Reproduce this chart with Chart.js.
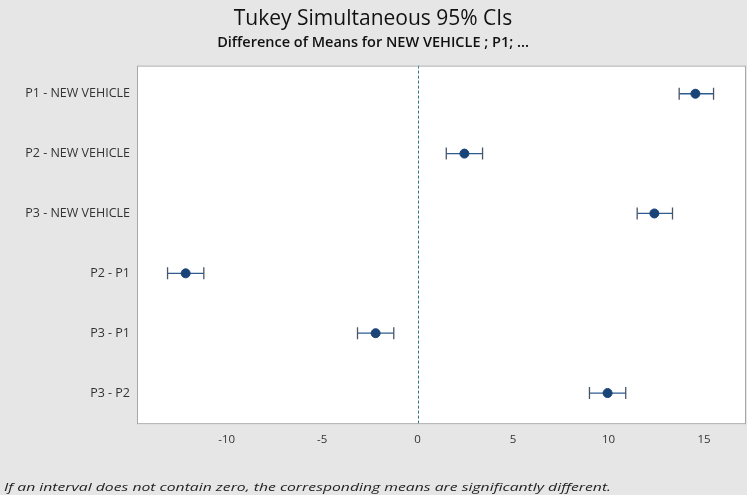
<!DOCTYPE html>
<html>
<head>
<meta charset="utf-8">
<script src="https://cdn.jsdelivr.net/npm/chart.js@4.4.1/dist/chart.umd.min.js"></script>
<style>
  html, body { margin: 0; padding: 0; background: #e6e6e6; }
  #wrap { position: relative; width: 747px; height: 495px; overflow: hidden; }
  #note {
    position: absolute; left: 4px; top: 479px; white-space: nowrap;
    font: italic 11px "Open Sans", sans-serif; color: #222;
    transform: scaleX(1.43); transform-origin: left top;
  }
</style>
</head>
<body>
<div id="wrap">
  <canvas id="tukey" width="747" height="495"></canvas>
  <div id="note">If an interval does not contain zero, the corresponding means are significantly different.</div>
</div>
<script>
const comparisons = [
  "P1 - NEW VEHICLE",
  "P2 - NEW VEHICLE",
  "P3 - NEW VEHICLE",
  "P2 - P1",
  "P3 - P1",
  "P3 - P2",
];
const diffMeans = [14.55, 2.45, 12.4, -12.15, -2.2, 9.95];
const lowerCI = [13.7, 1.5, 11.5, -13.1, -3.15, 9.0];
const upperCI = [15.5, 3.4, 13.35, -11.2, -1.25, 10.9];
const xTicks = [-10, -5, 0, 5, 10, 15];

// white plot area, border, dashed zero line and the interval bars
const intervalPlugin = {
  id: "intervals",
  beforeDraw(chart) {
    const { ctx, chartArea: a } = chart;
    ctx.save();
    ctx.fillStyle = "#ffffff";
    ctx.fillRect(a.left, a.top, a.right - a.left, a.bottom - a.top);
    ctx.restore();
  },
  beforeDatasetsDraw(chart) {
    const { ctx, chartArea: a, scales } = chart;
    const x = scales.x, y = scales.y;
    ctx.save();
    // zero reference line
    const x0 = Math.round(x.getPixelForValue(0)) + 0.5;
    ctx.strokeStyle = "#2f7777";
    ctx.lineWidth = 1;
    ctx.setLineDash([3, 2]);
    ctx.beginPath();
    ctx.moveTo(x0, a.top);
    ctx.lineTo(x0, a.bottom);
    ctx.stroke();
    ctx.setLineDash([]);
    // intervals
    diffMeans.forEach((m, i) => {
      const py = y.getPixelForValue(i);
      const xl = x.getPixelForValue(lowerCI[i]);
      const xr = x.getPixelForValue(upperCI[i]);
      ctx.strokeStyle = "#2f5c8f";
      ctx.lineWidth = 1.3;
      ctx.beginPath();
      ctx.moveTo(xl, py);
      ctx.lineTo(xr, py);
      ctx.stroke();
      ctx.strokeStyle = "#4a5568";
      ctx.beginPath();
      ctx.moveTo(xl, py - 6);
      ctx.lineTo(xl, py + 6);
      ctx.moveTo(xr, py - 6);
      ctx.lineTo(xr, py + 6);
      ctx.stroke();
    });
    ctx.restore();
  },
  afterDraw(chart) {
    const { ctx, chartArea: a } = chart;
    ctx.save();
    ctx.strokeStyle = "#a8a8a8";
    ctx.lineWidth = 1;
    ctx.strokeRect(a.left + 0.5, a.top + 0.5, a.right - a.left - 1, a.bottom - a.top - 1);
    ctx.restore();
  },
};

new Chart(document.getElementById("tukey"), {
  type: "scatter",
  data: {
    datasets: [
      {
        label: "Difference of Means",
        data: diffMeans.map((m, i) => ({ x: m, y: i })),
        backgroundColor: "#1a4478",
        borderColor: "#1a4478",
        pointRadius: 4.5,
      },
    ],
  },
  options: {
    responsive: false,
    animation: false,
    layout: { autoPadding: false, padding: { left: 0, right: 1, top: 0, bottom: 43 } },
    plugins: {
      legend: { display: false },
      tooltip: { enabled: false },
      title: {
        display: true,
        text: "Tukey Simultaneous 95% CIs",
        color: "#111",
        font: { family: "Open Sans", size: 21, weight: "normal" },
        padding: { top: 6, bottom: 0 },
      },
      subtitle: {
        display: true,
        text: "Difference of Means for NEW VEHICLE ; P1; ...",
        color: "#111",
        font: { family: "Open Sans", size: 14.5, weight: "600" },
        padding: { top: 3, bottom: 14 },
      },
    },
    scales: {
      x: {
        type: "linear",
        min: -14.7,
        max: 17.2,
        afterBuildTicks(scale) {
          scale.ticks = xTicks.map((v) => ({ value: v }));
        },
        afterFit(scale) {
          scale.paddingLeft = 0;
          scale.paddingRight = 0;
        },
        grid: { display: false, drawTicks: true, tickLength: 4 },
        border: { display: false },
        ticks: {
          color: "#333",
          font: { family: "Open Sans", size: 11.5 },
          padding: 5,
        },
      },
      y: {
        type: "linear",
        min: -0.47,
        max: 5.52,
        reverse: true,
        afterBuildTicks(scale) {
          scale.ticks = comparisons.map((c, i) => ({ value: i }));
        },
        afterFit(scale) {
          scale.width = 137;
        },
        grid: { display: false, drawTicks: true, tickLength: 4 },
        border: { display: false },
        ticks: {
          color: "#333",
          font: { family: "Open Sans", size: 12.5 },
          padding: 3,
          callback: (v) => comparisons[v],
        },
      },
    },
  },
  plugins: [intervalPlugin],
});
</script>
</body>
</html>
